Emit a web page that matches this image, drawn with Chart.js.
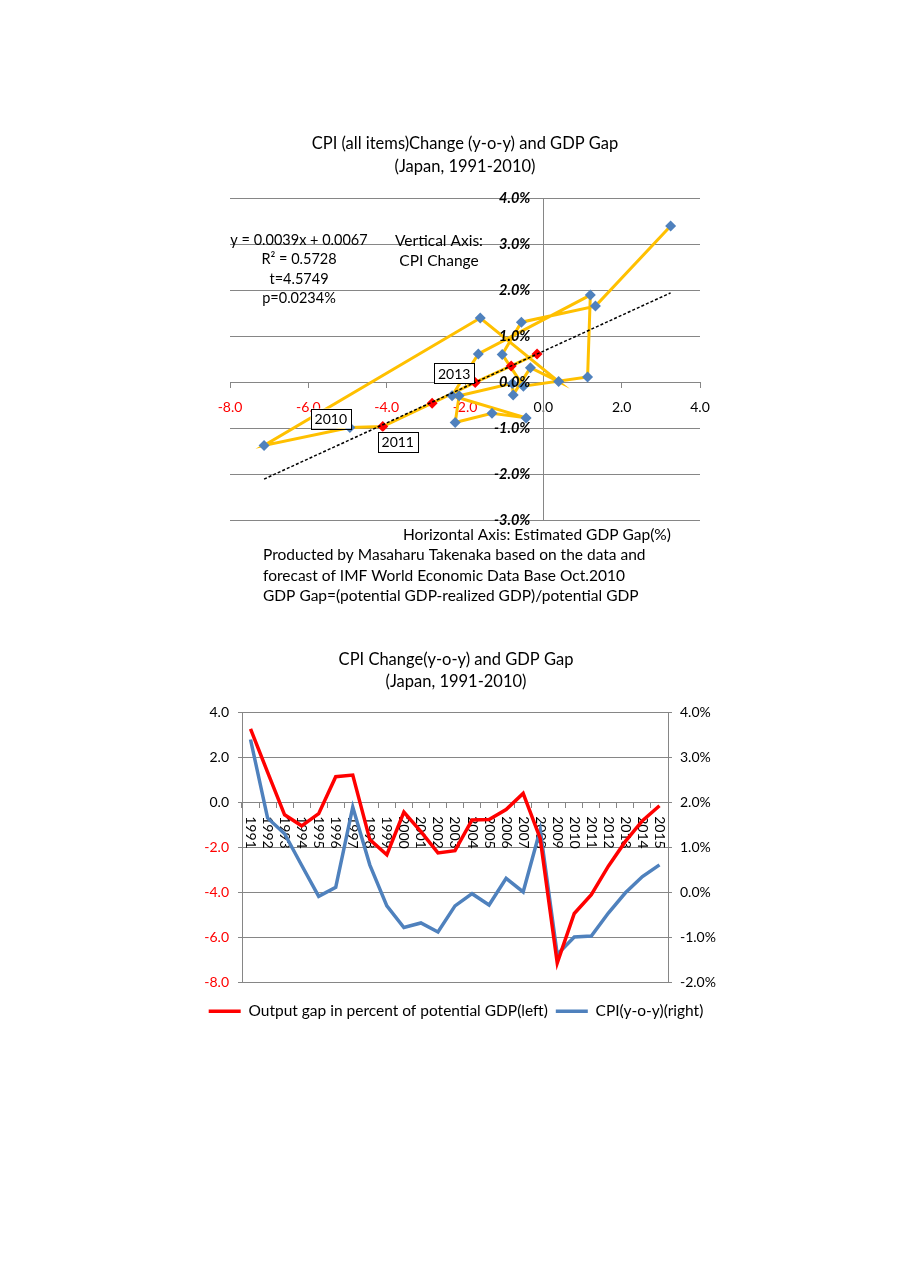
<!DOCTYPE html>
<html>
<head>
<meta charset="utf-8">
<title>CPI Change and GDP Gap (Japan)</title>
<script src="https://cdn.jsdelivr.net/npm/chart.js"></script>
<style>
body{margin:0;background:#fff;font-family:Lato,sans-serif;}
.wrap{position:absolute;}
</style>
</head>
<body>
<div class="wrap" style="left:180px;top:110px;width:570px;height:510px"><canvas id="scatter"></canvas></div>
<div class="wrap" style="left:180px;top:640px;width:560px;height:400px"><canvas id="lines"></canvas></div>
<script>
// data
const years = ['1991','1992','1993','1994','1995','1996','1997','1998','1999','2000','2001','2002','2003',
  '2004','2005','2006','2007','2008','2009','2010','2011','2012','2013','2014','2015'];
// output gap, % of potential GDP
const gdpGap = [3.25, 1.33, -0.56, -1.05, -0.51, 1.13, 1.20, -1.66, -2.33, -0.44, -1.31, -2.25, -2.15,
  -0.79, -0.77, -0.33, 0.39, -1.61, -7.13, -4.94, -4.10, -2.84, -1.74, -0.82, -0.16];
// CPI y-o-y, %
const cpi = [3.39, 1.65, 1.30, 0.60, -0.09, 0.11, 1.89, 0.61, -0.30, -0.78, -0.68, -0.88, -0.30,
  -0.03, -0.28, 0.31, 0.01, 1.39, -1.38, -0.99, -0.97, -0.46, -0.01, 0.35, 0.61];
const lastActual = 2010;
// trend y = 0.0039x + 0.0067 (in % units)
const fitSlope = 0.39, fitIntercept = 0.67;

const xTicks = {min: -8, max: 4, step: 2};
const yTicks = {min: -3, max: 4, step: 1};
const gapTicks = {min: -8, max: 4, step: 2};
const cpiTicks = {min: -2, max: 4, step: 1};

const title1 = ['CPI (all items)Change (y-o-y) and GDP Gap', '(Japan, 1991-2010)'];
const title2 = ['CPI Change(y-o-y) and GDP Gap', '(Japan, 1991-2010)'];
const fitText = ['y = 0.0039x + 0.0067', 'R\u00b2 = 0.5728', 't=4.5749', 'p=0.0234%'];
const vNote = ['Vertical Axis:', 'CPI Change'];
const hNote = 'Horizontal Axis: Estimated GDP Gap(%)';
const credits = ['Producted by Masaharu Takenaka based on the data and',
  'forecast of IMF World Economic Data Base Oct.2010',
  'GDP Gap=(potential GDP-realized GDP)/potential GDP'];
const gapLabel = 'Output gap in percent of potential GDP(left)';
const cpiLabel = 'CPI(y-o-y)(right)';

Chart.defaults.font.family = 'Lato, sans-serif';
Chart.defaults.color = '#000';

const RED = '#FF0000', BLUE = '#4F81BD', ORANGE = '#FFC000', GRID = '#868686';

// ---- top: scatter ----
const pts = years.map((y, i) => ({x: gdpGap[i], y: cpi[i]}));
const actualGap = gdpGap.filter((v, i) => +years[i] <= lastActual);
const tx0 = Math.min(...actualGap), tx1 = Math.max(...actualGap);
const trend = [tx0, tx1].map(x => ({x: x, y: fitSlope * x + fitIntercept}));

const yearTags = {'2010': [-19, -9], '2011': [15, 15], '2013': [-21, -9]};

const notes = {
  id: 'notes',
  afterDatasetsDraw(chart) {
    const ctx = chart.ctx;
    const {x, y} = chart.scales;
    ctx.save();
    ctx.fillStyle = '#000';
    ctx.textBaseline = 'middle';
    ctx.textAlign = 'center';
    ctx.font = '14.5px Lato';
    fitText.forEach((t, i) => ctx.fillText(t, 119, 130 + i * 19.5));
    ctx.font = '15.5px Lato';
    vNote.forEach((t, i) => ctx.fillText(t, 259, 131 + i * 20));
    ctx.textAlign = 'left';
    ctx.fillText(hNote, 223, 425);
    credits.forEach((t, i) => ctx.fillText(t, 83, 445 + i * 20.5));
    // year tags
    ctx.font = '14px Lato';
    ctx.textAlign = 'center';
    Object.keys(yearTags).forEach(yr => {
      const i = years.indexOf(yr);
      const cx = x.getPixelForValue(gdpGap[i]) + yearTags[yr][0];
      const cy = y.getPixelForValue(cpi[i]) + yearTags[yr][1];
      const w = ctx.measureText(yr).width + 8, h = 20;
      ctx.fillStyle = '#fff';
      ctx.fillRect(cx - w / 2, cy - h / 2, w, h);
      ctx.strokeStyle = '#000';
      ctx.lineWidth = 1;
      ctx.strokeRect(Math.round(cx - w / 2) + 0.5, Math.round(cy - h / 2) + 0.5, Math.round(w), h);
      ctx.fillStyle = '#000';
      ctx.fillText(yr, cx, cy + 1);
    });
    ctx.restore();
  }
};

new Chart(document.getElementById('scatter'), {
  type: 'scatter',
  data: {
    datasets: [
      {label: 'trend', data: trend, showLine: true, borderColor: '#000', borderWidth: 1.5,
        borderDash: [3, 2], pointRadius: 0, order: 0},
      {label: 'CPI vs GDP gap', data: pts, showLine: true, borderColor: ORANGE, borderWidth: 3,
        pointStyle: 'rectRot', pointRadius: 5.5, pointBorderWidth: 0,
        pointBackgroundColor: years.map(y => +y > lastActual ? RED : BLUE), order: 1}
    ]
  },
  options: {
    responsive: true, maintainAspectRatio: false, animation: false,
    layout: {padding: {left: 50, right: 50, top: 0, bottom: 100}},
    plugins: {
      legend: {display: false}, tooltip: {enabled: false},
      title: {display: true, text: title1, color: '#000',
        font: {size: 16.5, weight: 'normal', lineHeight: 1.4}, padding: {top: 22.5, bottom: 19.3}}
    },
    scales: {
      x: {type: 'linear', min: xTicks.min, max: xTicks.max, position: {y: 0},
        ticks: {stepSize: xTicks.step, padding: 12.5, font: {size: 14},
          color: c => c.tick.value < 0 ? RED : '#000', callback: v => v.toFixed(1)},
        grid: {drawOnChartArea: false, tickLength: 5, color: GRID}, border: {color: GRID}},
      y: {type: 'linear', min: yTicks.min, max: yTicks.max, position: {x: 0},
        ticks: {display: false, stepSize: yTicks.step},
        grid: {color: GRID, drawTicks: false}, border: {color: GRID}},
      yLab: {type: 'linear', axis: 'y', min: yTicks.min, max: yTicks.max, position: {x: -0.33},
        ticks: {stepSize: yTicks.step, padding: 0, color: '#000', z: 1,
          font: {size: 14.5, weight: 'bold', style: 'italic'}, callback: v => v.toFixed(1) + '%'},
        grid: {display: false, drawTicks: false}, border: {display: false}}
    }
  },
  plugins: [notes]
});

// ---- bottom: two lines ----
const yearAxis = {
  id: 'yearAxis',
  beforeDatasetsDraw(chart) {
    const ctx = chart.ctx;
    const {x, y} = chart.scales;
    const y0 = y.getPixelForValue(0);
    ctx.save();
    ctx.fillStyle = '#000';
    ctx.font = '14px Lato';
    ctx.textAlign = 'left';
    ctx.textBaseline = 'middle';
    years.forEach((yr, i) => {
      ctx.save();
      ctx.translate(x.getPixelForValue(i), y0 + 14);
      ctx.rotate(Math.PI / 2);
      ctx.fillText(yr, 0, 0);
      ctx.restore();
    });
    ctx.restore();
  }
};

new Chart(document.getElementById('lines'), {
  type: 'line',
  data: {
    labels: years,
    datasets: [
      {label: gapLabel, data: gdpGap, yAxisID: 'y', borderColor: RED, backgroundColor: RED,
        borderWidth: 3.5, pointRadius: 0, tension: 0},
      {label: cpiLabel, data: cpi, yAxisID: 'y1', borderColor: BLUE, backgroundColor: BLUE,
        borderWidth: 3.5, pointRadius: 0, tension: 0}
    ]
  },
  options: {
    responsive: true, maintainAspectRatio: false, animation: false,
    layout: {padding: {left: 12, right: 20, top: 0, bottom: 11}},
    plugins: {
      tooltip: {enabled: false},
      title: {display: true, text: title2, color: '#000',
        font: {size: 16.5, weight: 'normal', lineHeight: 1.3}, padding: {top: 9.3, bottom: 19.8}},
      legend: {position: 'bottom',
        title: {display: true, text: ' ', font: {size: 10, lineHeight: 1.3}, padding: 0},
        labels: {usePointStyle: true, pointStyle: 'line', pointStyleWidth: 32, padding: 8,
          color: '#000', font: {size: 15.5}}}
    },
    scales: {
      x: {type: 'category', position: {y: 0}, offset: true,
        ticks: {display: false},
        grid: {offset: true, drawOnChartArea: false, tickLength: 5, color: GRID}, border: {color: GRID}},
      y: {position: 'left', min: gapTicks.min, max: gapTicks.max,
        ticks: {stepSize: gapTicks.step, padding: 9, font: {size: 14},
          color: c => c.tick.value < 0 ? RED : '#000', callback: v => v.toFixed(1)},
        grid: {color: GRID, tickLength: 4}, border: {color: GRID},
        afterFit: s => { s.width = 50; }},
      y1: {position: 'right', min: cpiTicks.min, max: cpiTicks.max,
        ticks: {stepSize: cpiTicks.step, padding: 8, font: {size: 14}, color: '#000',
          callback: v => v.toFixed(1) + '%'},
        grid: {drawOnChartArea: false, tickLength: 4, color: GRID}, border: {color: GRID},
        afterFit: s => { s.width = 52; }}
    }
  },
  plugins: [yearAxis]
});
</script>
</body>
</html>
